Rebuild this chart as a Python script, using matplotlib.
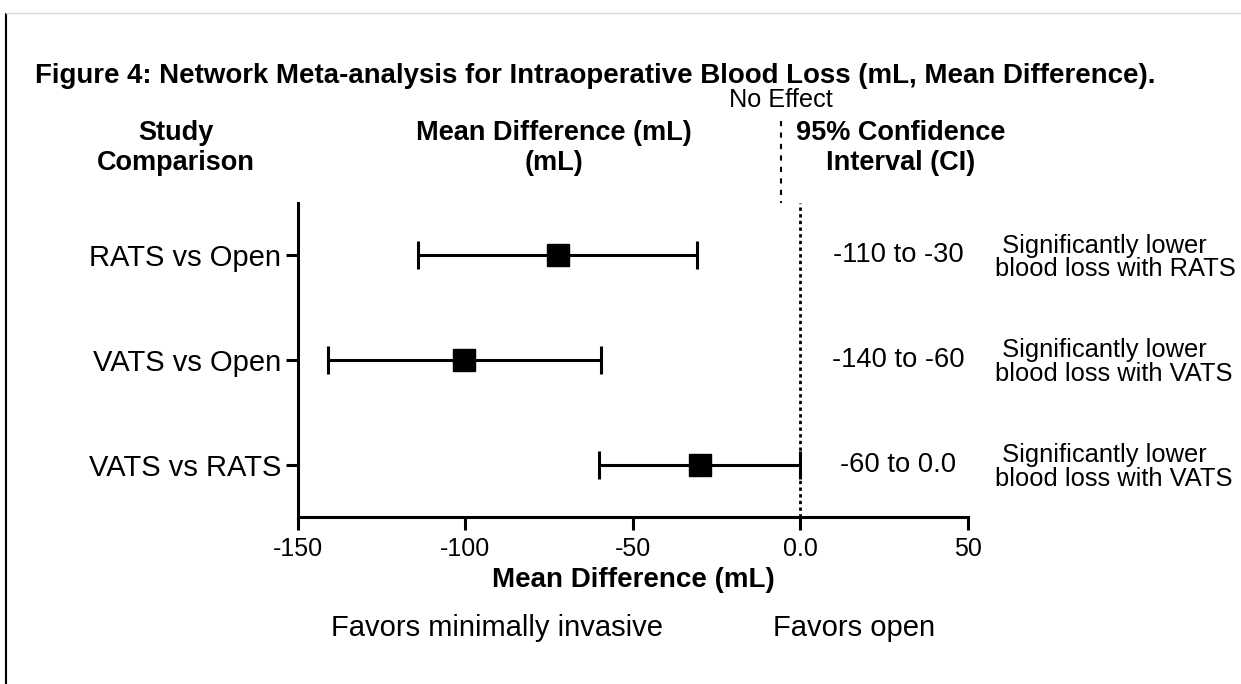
import matplotlib
matplotlib.use('Agg')
import matplotlib.pyplot as plt
from matplotlib.lines import Line2D

plt.rcParams['font.family'] = 'Liberation Sans'

# data
comparisons = ['RATS vs Open', 'VATS vs Open', 'VATS vs RATS']
mean_diff = [-72.5, -100.5, -30.0]
ci_low = [-114.0, -141.0, -60.0]
ci_high = [-31.0, -59.5, 0.0]
ci_text = ['-110 to -30', '-140 to -60', '-60 to 0.0']
verdicts = [' Significantly lower\nblood loss with RATS',
            ' Significantly lower\nblood loss with VATS',
            ' Significantly lower\nblood loss with VATS']
xticks = [-150, -100, -50, 0, 50]
xtick_labels = ['-150', '-100', '-50', '0.0', '50']

fig = plt.figure(figsize=(12.41, 6.84), dpi=100)
ax = fig.add_axes([0.240, 0.244, 0.540, 0.459])

ypos = list(range(len(comparisons)))
xerr = [[m - lo for m, lo in zip(mean_diff, ci_low)],
        [hi - m for m, hi in zip(mean_diff, ci_high)]]
ax.errorbar(mean_diff, ypos, xerr=xerr, fmt='s', color='black', ms=16,
            elinewidth=2.2, capsize=10, capthick=2.2)
ax.axvline(0, color='black', ls=(0, (1.2, 1.2)), lw=2)

ax.set_xlim(-150, 50)
ax.set_ylim(2.5, -0.5)
ax.set_xticks(xticks)
ax.set_xticklabels(xtick_labels)
ax.set_yticks(ypos)
ax.set_yticklabels(comparisons)
ax.tick_params(axis='both', width=2.2, length=9, labelsize=18, pad=5)
ax.tick_params(axis='y', labelsize=21, pad=3)
for s in ['top', 'right']:
    ax.spines[s].set_visible(False)
for s in ['left', 'bottom']:
    ax.spines[s].set_linewidth(2.2)
ax.set_xlabel('Mean Difference (mL)', fontsize=20, fontweight='bold', labelpad=5)

# column text on the right
for y, txt in zip(ypos, ci_text):
    ax.text(0.8955, y, txt, transform=ax.get_yaxis_transform(), fontsize=19.7,
            ha='center', va='center')
for y, v in zip(ypos, verdicts):
    ax.text(1.0403, y + 0.02, v, transform=ax.get_yaxis_transform(), fontsize=18.4,
            ha='left', va='center', linespacing=0.98)

# headers
fig.text(0.028, 1 - 76 / 684, 'Figure 4: Network Meta-analysis for Intraoperative Blood Loss (mL, Mean Difference).',
         fontsize=19.9, fontweight='bold', ha='left', va='center')
for xc, txt in [(176, 'Study\nComparison'), (554, 'Mean Difference (mL)\n(mL)'),
                (901, '95% Confidence\nInterval (CI)')]:
    fig.text(xc / 1241, 1 - 148 / 684, txt, fontsize=19.5, fontweight='bold',
             ha='center', va='center', linespacing=1.18)
fig.text(781 / 1241, 1 - 100 / 684, 'No Effect', fontsize=18.2, ha='center', va='center')
fig.add_artist(Line2D([781 / 1241, 781 / 1241], [1 - 121 / 684, 1 - 203 / 684],
                      color='black', lw=1.5, ls=(0, (2.5, 3))))

fig.text(497 / 1241, 1 - 628 / 684, 'Favors minimally invasive', fontsize=21,
         ha='center', va='center')
fig.text(854 / 1241, 1 - 628 / 684, 'Favors open', fontsize=21, ha='center', va='center')

# page border
fig.add_artist(Line2D([6 / 1241, 6 / 1241], [0, 1 - 14 / 684], color='black', lw=1.5))
fig.add_artist(Line2D([6 / 1241, 1], [1 - 13 / 684, 1 - 13 / 684], color='#d8d8d8', lw=1))

fig.savefig('out.png', dpi=100)
